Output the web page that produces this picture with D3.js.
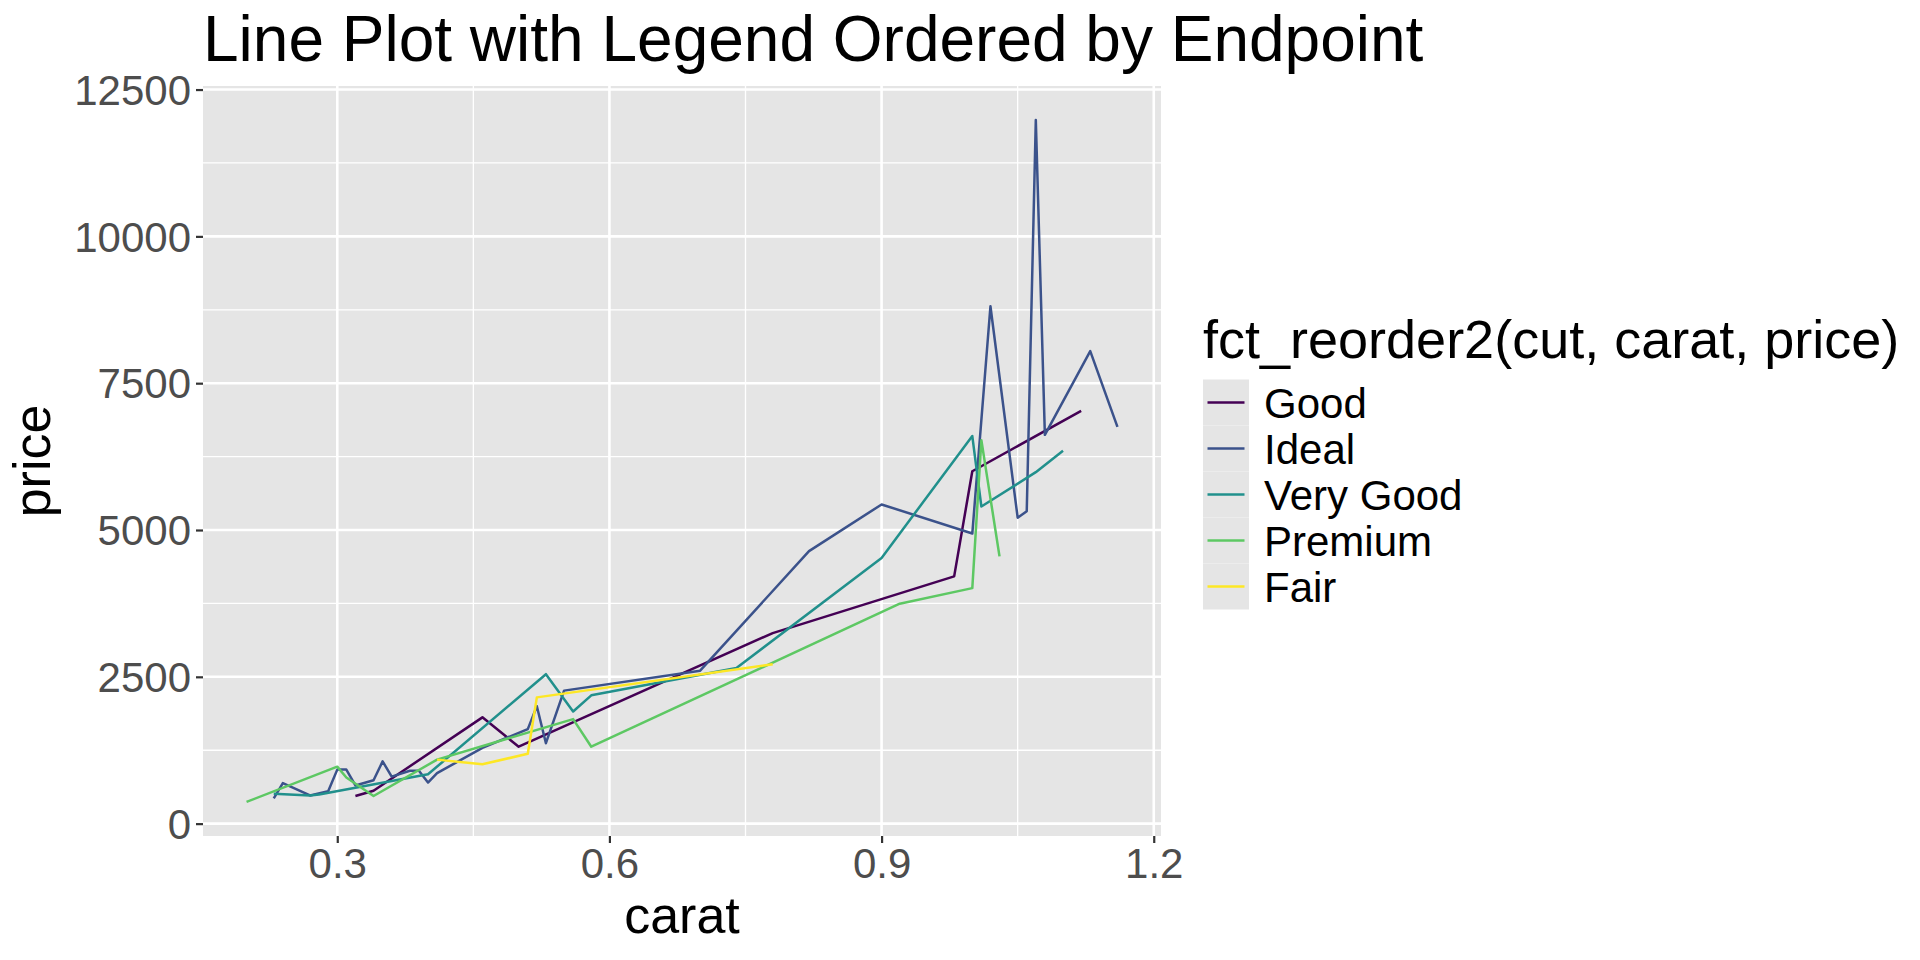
<!DOCTYPE html>
<html><head><meta charset="utf-8">
<script src="https://cdn.jsdelivr.net/npm/d3@7"></script>
<style>
html,body{margin:0;padding:0;background:#fff}
svg{display:block}
text{font-family:"Liberation Sans", Arial, Helvetica, sans-serif}
</style>
</head><body>
<svg id="chart" width="1920" height="960"></svg>
<script>
// ---------------- data ----------------
const cuts = ["Good", "Ideal", "Very Good", "Premium", "Fair"];

const goodCarat = [0.32, 0.34, 0.46, 0.50, 0.78, 0.98, 1.00, 1.12];
const goodPrice = [470, 560, 1810, 1310, 3245, 4210, 6000, 7030];

const idealCarat = [0.23, 0.24, 0.27, 0.29, 0.30, 0.31, 0.32, 0.34, 0.35, 0.36, 0.38, 0.39, 0.40, 0.41, 0.46, 0.51, 0.52, 0.53, 0.55, 0.70, 0.82, 0.90, 1.00, 1.02, 1.05, 1.06, 1.07, 1.08, 1.13, 1.16];
const idealPrice = [430, 690, 480, 550, 920, 920, 650, 740, 1060, 800, 900, 900, 700, 860, 1290, 1610, 2000, 1370, 2265, 2605, 4640, 5435, 4940, 8810, 5210, 5320, 11980, 6620, 8045, 6755];

const veryGoodCarat = [0.23, 0.27, 0.28, 0.40, 0.53, 0.56, 0.58, 0.74, 0.90, 1.00, 1.01, 1.07, 1.10];
const veryGoodPrice = [510, 480, 495, 840, 2545, 1910, 2185, 2650, 4525, 6600, 5400, 5985, 6350];

const premiumCarat = [0.20, 0.30, 0.31, 0.34, 0.41, 0.56, 0.58, 0.92, 1.00, 1.01, 1.03];
const premiumPrice = [370, 970, 785, 470, 1090, 1780, 1310, 3745, 4010, 6530, 4550];

const fairCarat = [0.41, 0.46, 0.51, 0.52, 0.78];
const fairPrice = [1090, 1010, 1190, 2150, 2715];

const xTicks = [0.3, 0.6, 0.9, 1.2];
const xMinor = [0.45, 0.75, 1.05];
const yTicks = [0, 2500, 5000, 7500, 10000, 12500];
const yMinor = [1250, 3750, 6250, 8750, 11250];

const titleText = "Line Plot with Legend Ordered by Endpoint";
const xTitle = "carat";
const yTitle = "price";
const legendTitle = "fct_reorder2(cut, carat, price)";

// ---------------- styles ----------------
const palette = ["#440154", "#3B528B", "#21908C", "#5DC863", "#FDE725"];
const panelFill = "#E5E5E5";

const series = [
  {cut: cuts[0], carat: goodCarat, price: goodPrice},
  {cut: cuts[1], carat: idealCarat, price: idealPrice},
  {cut: cuts[2], carat: veryGoodCarat, price: veryGoodPrice},
  {cut: cuts[3], carat: premiumCarat, price: premiumPrice},
  {cut: cuts[4], carat: fairCarat, price: fairPrice}
].map(s => ({cut: s.cut, pts: s.carat.map((c, i) => ({c, p: s.price[i]}))}));

const panel = {left: 203, right: 1161, top: 86, bottom: 836};

const allC = series.flatMap(s => s.pts.map(d => d.c));
const allP = series.flatMap(s => s.pts.map(d => d.p));
function expand(ext) { const r = ext[1] - ext[0]; return [ext[0] - 0.05 * r, ext[1] + 0.05 * r]; }

const x = d3.scaleLinear().domain(expand(d3.extent(allC))).range([panel.left, panel.right]);
const y = d3.scaleLinear().domain(expand(d3.extent(allP))).range([panel.bottom, panel.top]);
const color = d3.scaleOrdinal().domain(cuts).range(palette);

const svg = d3.select("#chart");
svg.append("rect").attr("width", 1920).attr("height", 960).attr("fill", "#ffffff");

// panel background
svg.append("rect")
  .attr("x", panel.left).attr("y", panel.top)
  .attr("width", panel.right - panel.left).attr("height", panel.bottom - panel.top)
  .attr("fill", panelFill);

const grid = svg.append("g");
grid.selectAll(".ymin").data(yMinor).join("line")
  .attr("x1", panel.left).attr("x2", panel.right)
  .attr("y1", d => y(d)).attr("y2", d => y(d))
  .attr("stroke", "#fff").attr("stroke-width", 1.3);
grid.selectAll(".xmin").data(xMinor).join("line")
  .attr("y1", panel.top).attr("y2", panel.bottom)
  .attr("x1", d => x(d)).attr("x2", d => x(d))
  .attr("stroke", "#fff").attr("stroke-width", 1.3);
grid.selectAll(".ymaj").data(yTicks).join("line")
  .attr("x1", panel.left).attr("x2", panel.right)
  .attr("y1", d => y(d)).attr("y2", d => y(d))
  .attr("stroke", "#fff").attr("stroke-width", 2.6);
grid.selectAll(".xmaj").data(xTicks).join("line")
  .attr("y1", panel.top).attr("y2", panel.bottom)
  .attr("x1", d => x(d)).attr("x2", d => x(d))
  .attr("stroke", "#fff").attr("stroke-width", 2.6);

// lines
const line = d3.line().x(d => x(d.c)).y(d => y(d.p));
svg.append("clipPath").attr("id", "clip").append("rect")
  .attr("x", panel.left).attr("y", panel.top)
  .attr("width", panel.right - panel.left).attr("height", panel.bottom - panel.top);
svg.append("g").attr("clip-path", "url(#clip)")
  .selectAll("path").data(series).join("path")
  .attr("d", d => line(d.pts))
  .attr("fill", "none")
  .attr("stroke", d => color(d.cut))
  .attr("stroke-width", 2.5)
  .attr("stroke-linejoin", "round");

// axes
const xAxis = svg.append("g").attr("transform", `translate(0,${panel.bottom})`)
  .call(d3.axisBottom(x).tickValues(xTicks).tickSize(7).tickFormat(d3.format(".1f")));
const yAxis = svg.append("g").attr("transform", `translate(${panel.left},0)`)
  .call(d3.axisLeft(y).tickValues(yTicks).tickSize(7).tickFormat(d3.format("d")));
[xAxis, yAxis].forEach(g => {
  g.select(".domain").remove();
  g.selectAll(".tick line").attr("stroke", "#333333").attr("stroke-width", 2.2);
  g.selectAll(".tick text").attr("fill", "#4D4D4D").style("font-size", "42px")
    .style("font-family", '"Liberation Sans", Arial, sans-serif');
});
xAxis.selectAll(".tick text").attr("y", 42).attr("dy", 0);
yAxis.selectAll(".tick text").attr("x", -12).attr("dy", "0.35em");

// titles
svg.append("text").attr("x", 203).attr("y", 61)
  .style("font-size", "64px").attr("fill", "#000").text(titleText);
svg.append("text").attr("x", (panel.left + panel.right) / 2).attr("y", 933)
  .attr("text-anchor", "middle").style("font-size", "52px").attr("fill", "#000").text(xTitle);
svg.append("text")
  .attr("transform", `translate(50,${(panel.top + panel.bottom) / 2}) rotate(-90)`)
  .attr("text-anchor", "middle").style("font-size", "52px").attr("fill", "#000").text(yTitle);

// legend
const leg = svg.append("g");
leg.append("text").attr("x", 1203).attr("y", 358)
  .style("font-size", "54px").attr("fill", "#000").text(legendTitle);
const keyH = 46, keyW = 46, keyTop = 379.5, keyLeft = 1203;
const items = leg.selectAll(".item").data(cuts).join("g")
  .attr("transform", (d, i) => `translate(${keyLeft},${keyTop + i * keyH})`);
items.append("rect").attr("width", keyW).attr("height", keyH).attr("fill", panelFill);
items.append("line").attr("x1", 4.5).attr("x2", keyW - 4.5)
  .attr("y1", keyH / 2).attr("y2", keyH / 2)
  .attr("stroke", d => color(d)).attr("stroke-width", 2.5);
items.append("text").attr("x", 61).attr("y", keyH / 2 + 15)
  .style("font-size", "42px").attr("fill", "#000").text(d => d);
</script>
</body></html>
